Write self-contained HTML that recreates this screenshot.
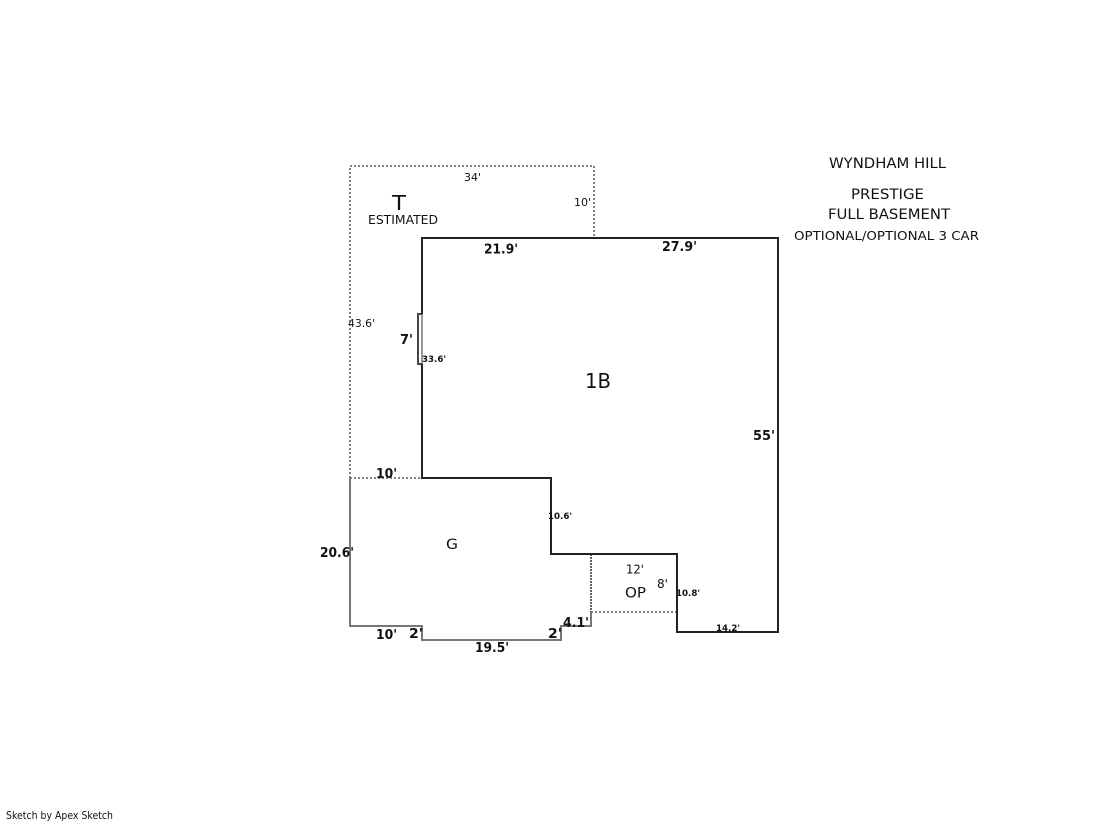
<!DOCTYPE html>
<html>
<head>
<meta charset="utf-8">
<style>
html,body{margin:0;padding:0;background:#fff;width:1119px;height:821px;overflow:hidden}
svg{display:block}
text{font-family:"DejaVu Sans","Liberation Sans",sans-serif;fill:#111}
.b{font-weight:bold}
</style>
</head>
<body>
<svg width="1119" height="821" viewBox="0 0 1119 821" xmlns="http://www.w3.org/2000/svg">
<g fill="none" stroke-width="2" shape-rendering="crispEdges">
<path d="M350 478V166H594V238" stroke="#808080" stroke-dasharray="2 2"/>
<path d="M350 478H422" stroke="#808080" stroke-dasharray="2 2"/>
<path d="M591 612H677" stroke="#808080" stroke-dasharray="2 2"/>
<path d="M591 554V612" stroke="#666" stroke-dasharray="2 1"/>
<path d="M350 478V626H422V640H561V626H591V612" stroke="#777"/>
<path d="M422 314V364" stroke="#999"/>
<path d="M422 314H418V364H422" stroke="#444"/>
<path d="M422 314V238H778V632H677V554H551V478H422V364" stroke="#222"/>
</g>

<text x="464" y="181" font-size="10.5" textLength="17" lengthAdjust="spacingAndGlyphs">34'</text>
<text x="574" y="206" font-size="10.5" textLength="17" lengthAdjust="spacingAndGlyphs">10'</text>
<text x="392" y="210" font-size="20" textLength="14" lengthAdjust="spacingAndGlyphs">T</text>
<text x="368" y="224" font-size="12" textLength="70" lengthAdjust="spacingAndGlyphs">ESTIMATED</text>
<text x="348" y="327" font-size="10.5" textLength="27" lengthAdjust="spacingAndGlyphs">43.6'</text>
<text class="b" x="484" y="253.5" font-size="13" textLength="34" lengthAdjust="spacingAndGlyphs">21.9'</text>
<text class="b" x="662" y="251" font-size="13" textLength="35" lengthAdjust="spacingAndGlyphs">27.9'</text>
<text class="b" x="400" y="344" font-size="13" textLength="13" lengthAdjust="spacingAndGlyphs">7'</text>
<text class="b" x="422" y="362" font-size="8.5" textLength="24" lengthAdjust="spacingAndGlyphs">33.6'</text>
<text x="585" y="388" font-size="20" textLength="26" lengthAdjust="spacingAndGlyphs">1B</text>
<text class="b" x="753" y="440" font-size="13" textLength="22" lengthAdjust="spacingAndGlyphs">55'</text>
<text class="b" x="376" y="478" font-size="13" textLength="21" lengthAdjust="spacingAndGlyphs">10'</text>
<text class="b" x="548" y="519" font-size="8.5" textLength="24" lengthAdjust="spacingAndGlyphs">10.6'</text>
<text x="446" y="549" font-size="14" textLength="12" lengthAdjust="spacingAndGlyphs">G</text>
<text class="b" x="320" y="557" font-size="13" textLength="34" lengthAdjust="spacingAndGlyphs">20.6'</text>
<text x="626" y="573.5" font-size="12" textLength="18" lengthAdjust="spacingAndGlyphs">12'</text>
<text x="657" y="588" font-size="12" textLength="11" lengthAdjust="spacingAndGlyphs">8'</text>
<text x="625" y="597.5" font-size="14.5" textLength="21" lengthAdjust="spacingAndGlyphs">OP</text>
<text class="b" x="676" y="596" font-size="8.5" textLength="24" lengthAdjust="spacingAndGlyphs">10.8'</text>
<text class="b" x="563" y="627" font-size="13" textLength="26" lengthAdjust="spacingAndGlyphs">4.1'</text>
<text class="b" x="716" y="631" font-size="8.5" textLength="24" lengthAdjust="spacingAndGlyphs">14.2'</text>
<text class="b" x="376" y="639" font-size="13" textLength="21" lengthAdjust="spacingAndGlyphs">10'</text>
<text class="b" x="409" y="638" font-size="13" textLength="14" lengthAdjust="spacingAndGlyphs">2'</text>
<text class="b" x="548" y="638" font-size="13" textLength="14" lengthAdjust="spacingAndGlyphs">2'</text>
<text class="b" x="475" y="652" font-size="13" textLength="34" lengthAdjust="spacingAndGlyphs">19.5'</text>

<text x="829" y="168" font-size="14" textLength="117" lengthAdjust="spacingAndGlyphs">WYNDHAM HILL</text>
<text x="851" y="199" font-size="14" textLength="73" lengthAdjust="spacingAndGlyphs">PRESTIGE</text>
<text x="828" y="219" font-size="14" textLength="122" lengthAdjust="spacingAndGlyphs">FULL BASEMENT</text>
<text x="794" y="240" font-size="12.5" textLength="185" lengthAdjust="spacingAndGlyphs">OPTIONAL/OPTIONAL 3 CAR</text>

<text x="6" y="819" font-size="10.5" textLength="107" lengthAdjust="spacingAndGlyphs">Sketch by Apex Sketch</text>
</svg>
</body>
</html>
